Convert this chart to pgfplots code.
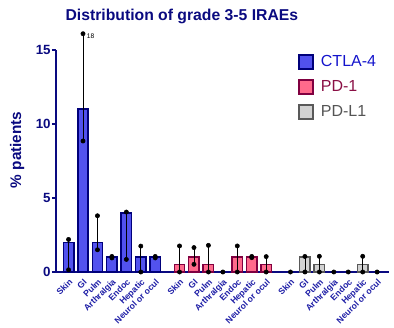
\documentclass[border=0pt]{standalone}
\usepackage{fontspec}
\setmainfont{Liberation Sans}
\usepackage{pgfplots}
\pgfplotsset{compat=1.18}
\definecolor{navy}{HTML}{0A0A80}
\definecolor{ticknavy}{HTML}{1E1EA6}
\definecolor{ctlafill}{HTML}{5252EE}
\definecolor{ctlaedge}{HTML}{00007A}
\definecolor{pdfill}{HTML}{FF6A8C}
\definecolor{pdedge}{HTML}{800040}
\definecolor{plfill}{HTML}{D2D2D2}
\definecolor{pledge}{HTML}{595959}
\definecolor{ctlatext}{HTML}{1414CC}
\definecolor{pdtext}{HTML}{8A0F45}
\definecolor{pltext}{HTML}{555555}
\begin{document}
\begin{tikzpicture}
\path[use as bounding box] (-42pt,-42pt) rectangle (253.5pt,204pt);
\begin{axis}[
  scale only axis, width=249.75pt, height=166.5pt,
  xmin=-0.87, xmax=22.18, ymin=0, ymax=15,
  clip=false,
  axis lines=left,
  axis line style={-},
  x axis line style={line width=1.5pt, navy},
  y axis line style={line width=0.9pt, navy},
  ytick={0,5,10,15},
  ytick style={navy, line width=0.9pt},
  tick align=outside,
  major tick length=3pt,
  xtick={0,1,2,3,4,5,6,7.68,8.68,9.68,10.68,11.68,12.68,13.68,15.36,16.36,17.36,18.36,19.36,20.36,21.36},
  xticklabels={Skin,GI,Pulm,Arthralgia,Endoc,Hepatic,Neurol or ocul,Skin,GI,Pulm,Arthralgia,Endoc,Hepatic,Neurol or ocul,Skin,GI,Pulm,Arthralgia,Endoc,Hepatic,Neurol or ocul},
  xtick style={draw=none},
  x tick label style={rotate=45, anchor=north east, font=\bfseries\fontsize{6.5}{7}\selectfont, text=ticknavy, inner sep=1pt},
  y tick label style={font=\bfseries\fontsize{10}{12}\selectfont, text=navy, xshift=2.5pt},
  /pgf/number format/assume math mode=true,
  title={Distribution of grade 3-5 IRAEs},
  title style={at={(axis description cs:0.378,1)}, anchor=center, yshift=19pt, font=\bfseries\fontsize{11.8}{13}\selectfont, text=navy},
  ylabel={\% patients},
  ylabel style={at={(axis description cs:-0.117,0.55)}, anchor=center, font=\bfseries\fontsize{11.5}{13}\selectfont, text=navy},
  legend style={draw=none, fill=none, at={(axis description cs:0.7267,0.991)}, anchor=north west, inner sep=0pt, row sep=5.3pt, font=\fontsize{12}{13}\selectfont,
    /tikz/every odd column/.append style={column sep=3pt}},
  legend cell align=left,
]
\addplot[ybar, bar width=0.72, bar shift=0, fill=ctlafill, draw=ctlaedge, line width=1.1pt,
  legend image code/.code={\draw[fill=ctlafill, draw=ctlaedge, line width=1.5pt] (0.75pt,-5.25pt) rectangle (11.25pt,5.25pt);}]
  coordinates {(0,2) (1,11) (2,2) (3,1) (4,4) (5,1) (6,1)};
\addlegendentry{\textcolor{ctlatext}{CTLA-4}}
\addplot[ybar, bar width=0.72, bar shift=0, fill=pdfill, draw=pdedge, line width=1.1pt,
  legend image code/.code={\draw[fill=pdfill, draw=pdedge, line width=1.5pt] (0.75pt,-5.25pt) rectangle (11.25pt,5.25pt);}]
  coordinates {(7.68,0.5) (8.68,1) (9.68,0.5) (11.68,1) (12.68,1) (13.68,0.5)};
\addlegendentry{\textcolor{pdtext}{PD-1}}
\addplot[ybar, bar width=0.72, bar shift=0, fill=plfill, draw=pledge, line width=1.1pt,
  legend image code/.code={\draw[fill=plfill, draw=pledge, line width=1.5pt] (0.75pt,-5.25pt) rectangle (11.25pt,5.25pt);}]
  coordinates {(16.36,1) (17.36,0.5) (20.36,0.5)};
\addlegendentry{\textcolor{pltext}{PD-L1}}
% range lines
\addplot[black, line width=0.6pt, forget plot, unbounded coords=jump] coordinates {
  (0,0.15) (0,2.2) (0,nan)
  (1,8.85) (1,16.1) (1,nan)
  (2,1.5) (2,3.8) (2,nan)
  (4,0.85) (4,4.05) (4,nan)
  (5,0) (5,1.75) (5,nan)
  (7.68,0) (7.68,1.76) (7.68,nan)
  (8.68,0.52) (8.68,1.65) (8.68,nan)
  (9.68,0) (9.68,1.8) (9.68,nan)
  (11.68,0) (11.68,1.76) (11.68,nan)
  (13.68,0) (13.68,1.04) (13.68,nan)
  (16.36,0) (16.36,1.05) (16.36,nan)
  (17.36,0) (17.36,1.06) (17.36,nan)
  (20.36,0) (20.36,1.06)
};
% individual points
\addplot[only marks, mark=*, mark size=1.6pt, black, forget plot] coordinates {
  (0,0.15) (0,2.2) (1,8.85) (1,16.1) (2,1.5) (2,3.8) (3,1.05) (3,0.95)
  (4,0.85) (4,4.05) (5,0) (5,1.75) (6,1.05) (6,0.95)
  (7.68,0) (7.68,1.76) (8.68,0.52) (8.68,1.65) (9.68,0) (9.68,1.8) (10.68,0)
  (11.68,0) (11.68,1.76) (12.68,1.05) (12.68,0.97) (13.68,0) (13.68,1.04)
  (15.36,0) (16.36,0) (16.36,1.05) (17.36,0) (17.36,1.06) (18.36,0) (19.36,0)
  (20.36,0) (20.36,1.06) (21.36,0)
};
\node[anchor=west, font=\fontsize{5}{6}\selectfont, inner sep=0pt] at (axis cs:1.25,15.9) {18};
\end{axis}
\end{tikzpicture}
\end{document}
